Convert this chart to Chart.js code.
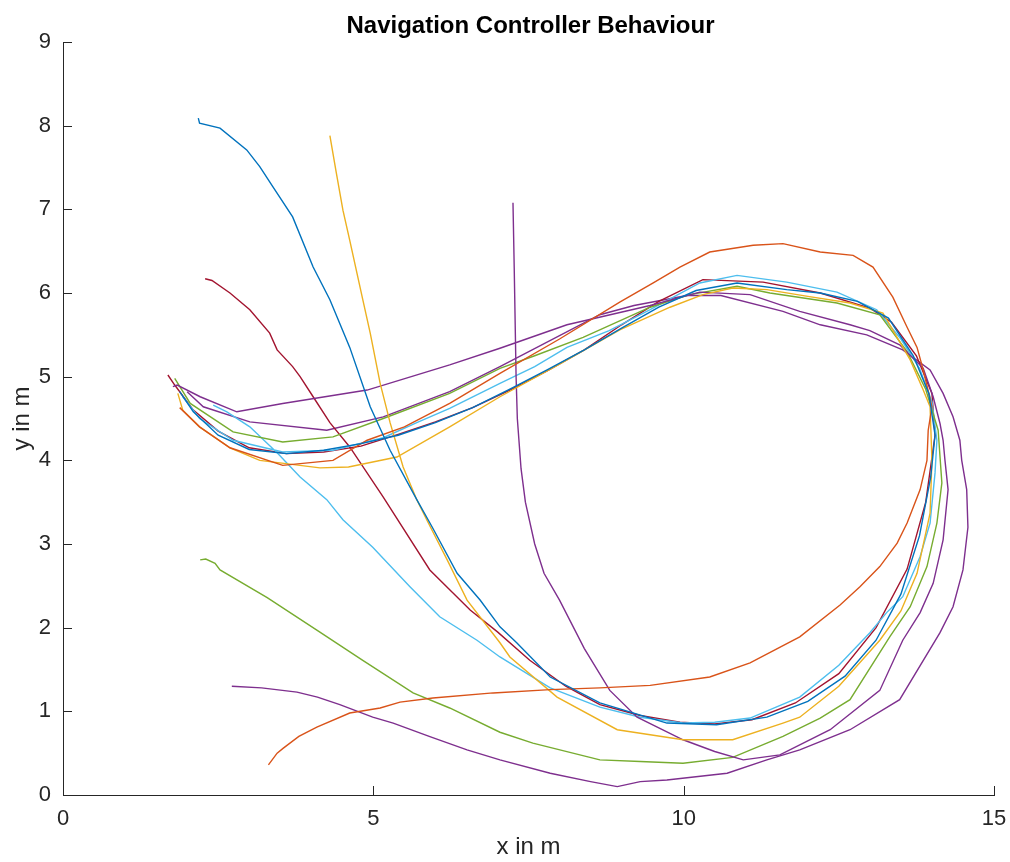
<!DOCTYPE html>
<html>
<head>
<meta charset="utf-8">
<title>Navigation Controller Behaviour</title>
<script src="https://cdn.jsdelivr.net/npm/chart.js@4.4.1/dist/chart.umd.min.js"></script>
<style>
    html, body { margin: 0; padding: 0; background: #ffffff; }
    canvas { display: block; }
</style>
</head>
<body>
<canvas id="navChart" width="1010" height="862"></canvas>
<script>
// Axis ticks
const xTicks = [0, 5, 10, 15];
const yTicks = [0, 1, 2, 3, 4, 5, 6, 7, 8, 9];
const chartTitle = 'Navigation Controller Behaviour';

// Trajectories (x, y in m)
const blueX = [2.18, 2.20, 2.53, 2.96, 3.17, 3.38, 3.70, 4.03, 4.30, 4.62, 4.95, 5.27, 5.70, 5.95, 6.35, 6.72, 7.04, 7.31, 7.85, 8.65, 9.73, 10.53, 11.34, 12.0, 12.6, 13.1, 13.5, 13.8, 13.98, 14.05, 13.95, 13.7, 13.3, 12.8, 12.2, 11.66, 10.86, 10.2, 9.6, 9.0, 8.4, 7.8, 7.2, 6.6, 6.0, 5.4, 4.8, 4.2, 3.6, 3.0, 2.5, 2.1, 1.88];
const blueY = [8.09, 8.03, 7.97, 7.71, 7.51, 7.27, 6.91, 6.31, 5.92, 5.35, 4.64, 4.12, 3.53, 3.20, 2.65, 2.33, 2.01, 1.82, 1.41, 1.10, 0.86, 0.84, 0.93, 1.12, 1.42, 1.85, 2.4, 3.1, 3.8, 4.3, 4.8, 5.25, 5.7, 5.9, 6.0, 6.04, 6.12, 6.03, 5.83, 5.58, 5.32, 5.08, 4.85, 4.63, 4.45, 4.3, 4.2, 4.12, 4.08, 4.13, 4.3, 4.58, 4.82];

const orangeX = [3.31, 3.45, 3.55, 3.8, 4.09, 4.62, 5.11, 5.43, 5.96, 6.93, 7.85, 8.65, 9.46, 10.42, 11.07, 11.87, 12.52, 12.84, 13.16, 13.44, 13.6, 13.81, 13.92, 13.94, 14.0, 13.86, 13.76, 13.6, 13.37, 13.05, 12.73, 12.2, 11.6, 11.12, 10.42, 9.94, 9.51, 8.97, 8.0, 7.04, 6.23, 5.5, 4.9, 4.35, 3.54, 2.69, 2.2, 1.88];
const orangeY = [0.36, 0.5, 0.56, 0.7, 0.81, 0.98, 1.04, 1.11, 1.16, 1.22, 1.26, 1.28, 1.31, 1.41, 1.58, 1.89, 2.27, 2.49, 2.73, 3.01, 3.25, 3.65, 4.0, 4.36, 4.64, 5.08, 5.35, 5.59, 5.95, 6.31, 6.45, 6.49, 6.59, 6.57, 6.49, 6.31, 6.12, 5.89, 5.45, 5.04, 4.68, 4.4, 4.24, 4.0, 3.94, 4.15, 4.4, 4.63];

const yellowX = [4.30, 4.40, 4.51, 4.62, 4.83, 4.95, 5.11, 5.27, 5.48, 5.70, 5.86, 6.19, 6.51, 7.04, 7.2, 7.96, 8.93, 9.99, 10.79, 11.6, 11.87, 12.5, 13.16, 13.5, 13.76, 13.97, 14.0, 13.97, 13.86, 13.65, 13.21, 12.68, 12.0, 11.34, 10.79, 10.31, 9.78, 8.97, 8.0, 7.04, 6.23, 5.38, 4.6, 4.14, 3.17, 2.69, 2.2, 1.93, 1.85];
const yellowY = [7.88, 7.45, 6.99, 6.63, 5.92, 5.52, 4.92, 4.45, 3.92, 3.53, 3.29, 2.81, 2.33, 1.82, 1.65, 1.17, 0.78, 0.66, 0.66, 0.86, 0.93, 1.3, 1.85, 2.2, 2.65, 3.37, 4.0, 4.64, 4.84, 5.2, 5.76, 5.88, 5.96, 6.04, 6.06, 5.98, 5.83, 5.56, 5.15, 4.76, 4.40, 4.04, 3.92, 3.91, 4.0, 4.15, 4.4, 4.6, 4.8];

const purpleAX = [7.25, 7.27, 7.30, 7.32, 7.38, 7.45, 7.6, 7.75, 8.0, 8.4, 8.81, 9.25, 9.99, 10.5, 10.96, 11.55, 12.36, 13.16, 13.53, 13.81, 14.02, 14.18, 14.26, 14.21, 14.18, 14.13, 14.02, 13.86, 13.48, 13.0, 12.68, 11.87, 11.07, 10.26, 9.46, 8.12, 7.04, 6.23, 4.9, 3.54, 2.8, 2.21, 1.84, 1.77];
const purpleAY = [7.08, 6.3, 5.0, 4.5, 3.9, 3.5, 3.0, 2.65, 2.33, 1.75, 1.25, 0.93, 0.66, 0.52, 0.42, 0.48, 0.78, 1.25, 1.85, 2.18, 2.53, 3.05, 3.65, 4.0, 4.24, 4.44, 4.76, 5.1, 5.38, 5.55, 5.62, 5.78, 5.98, 6.01, 5.85, 5.62, 5.34, 5.14, 4.84, 4.68, 4.58, 4.76, 4.9, 4.88];

const greenX = [2.21, 2.3, 2.45, 2.53, 3.29, 4.09, 4.83, 5.64, 6.23, 7.04, 7.57, 8.65, 9.3, 9.99, 10.79, 11.6, 12.2, 12.68, 13.32, 13.65, 13.92, 14.08, 14.16, 14.1, 13.9, 13.6, 13.16, 12.47, 11.39, 10.86, 10.1, 9.46, 8.38, 7.6, 7.04, 6.23, 5.16, 4.35, 3.54, 2.74, 2.05, 1.8];
const greenY = [2.81, 2.82, 2.77, 2.69, 2.36, 1.97, 1.61, 1.22, 1.04, 0.75, 0.62, 0.42, 0.4, 0.38, 0.45, 0.7, 0.92, 1.14, 1.89, 2.25, 2.73, 3.25, 3.73, 4.36, 4.85, 5.3, 5.74, 5.88, 6.0, 6.08, 5.98, 5.83, 5.47, 5.25, 5.1, 4.8, 4.5, 4.28, 4.22, 4.34, 4.68, 4.98];

const lightBlueX = [2.42, 2.64, 3.01, 3.45, 3.82, 4.25, 4.51, 4.99, 5.59, 6.07, 6.67, 7.04, 7.85, 8.65, 9.3, 9.99, 10.5, 11.07, 11.87, 12.5, 13.0, 13.27, 13.53, 13.81, 13.97, 14.05, 14.08, 14.0, 13.8, 13.5, 13.11, 12.47, 11.66, 10.86, 10.26, 9.46, 8.8, 8.12, 7.6, 7.04, 6.23, 5.7, 5.16, 4.35, 3.54, 2.74, 2.2, 1.93];
const lightBlueY = [4.66, 4.58, 4.40, 4.09, 3.80, 3.53, 3.29, 2.96, 2.49, 2.13, 1.85, 1.65, 1.28, 1.05, 0.93, 0.86, 0.87, 0.92, 1.17, 1.55, 1.94, 2.18, 2.37, 2.85, 3.25, 3.85, 4.24, 4.7, 5.1, 5.45, 5.8, 6.01, 6.13, 6.21, 6.12, 5.80, 5.55, 5.35, 5.12, 4.92, 4.62, 4.45, 4.27, 4.12, 4.10, 4.24, 4.5, 4.76];

const redX = [2.29, 2.4, 2.69, 3.01, 3.33, 3.45, 3.70, 3.82, 4.03, 4.30, 4.62, 5.16, 5.91, 6.56, 7.0, 7.52, 8.1, 8.65, 9.3, 9.94, 10.5, 11.1, 11.8, 12.5, 13.1, 13.6, 13.9, 14.05, 14.0, 13.75, 13.35, 13.0, 12.2, 11.28, 10.31, 9.6, 9.0, 8.4, 7.8, 7.2, 6.6, 6.0, 5.4, 4.8, 4.2, 3.6, 3.0, 2.5, 2.1, 1.8, 1.69];
const redY = [6.17, 6.15, 6.0, 5.8, 5.52, 5.32, 5.12, 5.0, 4.76, 4.45, 4.16, 3.56, 2.69, 2.21, 1.95, 1.61, 1.3, 1.08, 0.95, 0.87, 0.85, 0.9, 1.1, 1.45, 2.0, 2.7, 3.5, 4.3, 4.8, 5.25, 5.65, 5.82, 6.0, 6.13, 6.16, 5.9, 5.62, 5.32, 5.07, 4.84, 4.63, 4.46, 4.31, 4.17, 4.1, 4.08, 4.15, 4.35, 4.6, 4.9, 5.02];

const purpleBX = [2.72, 3.2, 3.77, 4.1, 4.46, 4.99, 5.32, 5.9, 6.51, 7.04, 7.85, 8.5, 8.93, 9.3, 9.73, 10.7, 11.34, 11.87, 12.68, 13.48, 14.13, 14.34, 14.5, 14.58, 14.56, 14.48, 14.45, 14.34, 14.18, 13.97, 13.53, 12.95, 12.2, 11.6, 10.6, 10.05, 9.2, 8.65, 7.04, 6.23, 5.16, 4.25, 3.01, 2.26, 2.0];
const purpleBY = [1.30, 1.28, 1.23, 1.17, 1.08, 0.93, 0.86, 0.7, 0.54, 0.42, 0.26, 0.16, 0.1, 0.16, 0.18, 0.26, 0.42, 0.54, 0.78, 1.14, 1.94, 2.25, 2.69, 3.2, 3.65, 4.0, 4.24, 4.52, 4.8, 5.08, 5.32, 5.5, 5.62, 5.78, 5.97, 5.97, 5.85, 5.74, 5.12, 4.82, 4.52, 4.36, 4.46, 4.64, 4.82];

// MATLAB default line colours
const colors = {
    blue: '#0072BD',
    orange: '#D95319',
    yellow: '#EDB120',
    purple: '#7E2F8E',
    green: '#77AC30',
    lightBlue: '#4DBEEE',
    red: '#A2142F',
    axis: '#262626'
};
const fontFamily = "'Liberation Sans', Arial, sans-serif";

function toPoints(xs, ys) {
    return xs.map(function(x, i) { return { x: x, y: ys[i] }; });
}

function track(xs, ys, color) {
    return {
        data: toPoints(xs, ys),
        showLine: true,
        borderColor: color,
        borderWidth: 1.4,
        pointRadius: 0,
        fill: false,
        tension: 0
    };
}

// MATLAB style: ticks pointing into the plot, title centred over the axes
const matlabLook = {
    id: 'matlabLook',
    afterDatasetsDraw: function(chart) {
        const ctx = chart.ctx;
        const area = chart.chartArea;
        const xs = chart.scales.x;
        const ys = chart.scales.y;
        ctx.save();
        ctx.strokeStyle = colors.axis;
        ctx.lineWidth = 1;
        ctx.beginPath();
        xTicks.forEach(function(v) {
            const px = Math.round(xs.getPixelForValue(v)) + 0.5;
            ctx.moveTo(px, area.bottom);
            ctx.lineTo(px, area.bottom - 9);
        });
        yTicks.forEach(function(v) {
            const py = Math.round(ys.getPixelForValue(v)) + 0.5;
            ctx.moveTo(area.left, py);
            ctx.lineTo(area.left + 9, py);
        });
        ctx.stroke();

        ctx.fillStyle = '#000000';
        ctx.font = 'bold 24px ' + fontFamily;
        ctx.textAlign = 'center';
        ctx.textBaseline = 'alphabetic';
        ctx.fillText(chartTitle, (area.left + area.right) / 2 + 2, 33);
        ctx.restore();
    }
};

const ctx = document.getElementById('navChart').getContext('2d');
const navChart = new Chart(ctx, {
    type: 'scatter',
    data: {
        datasets: [
            track(blueX, blueY, colors.blue),
            track(orangeX, orangeY, colors.orange),
            track(yellowX, yellowY, colors.yellow),
            track(purpleAX, purpleAY, colors.purple),
            track(greenX, greenY, colors.green),
            track(lightBlueX, lightBlueY, colors.lightBlue),
            track(redX, redY, colors.red),
            track(purpleBX, purpleBY, colors.purple)
        ]
    },
    options: {
        responsive: false,
        animation: false,
        layout: {
            padding: { left: 0, right: 16, top: 42, bottom: 0 }
        },
        plugins: {
            legend: { display: false },
            tooltip: { enabled: false },
            title: { display: false }
        },
        scales: {
            x: {
                type: 'linear',
                min: 0,
                max: 15,
                afterFit: function(scale) {
                    scale.height = 67;
                    scale.paddingLeft = 0;
                    scale.paddingRight = 0;
                },
                afterBuildTicks: function(scale) {
                    scale.ticks = xTicks.map(function(v) { return { value: v }; });
                },
                grid: { drawOnChartArea: false, drawTicks: false },
                border: { display: true, color: colors.axis, width: 1 },
                ticks: {
                    color: colors.axis,
                    padding: 11,
                    maxRotation: 0,
                    font: { family: fontFamily, size: 22 }
                },
                title: {
                    display: true,
                    text: 'x in m',
                    color: colors.axis,
                    font: { family: fontFamily, size: 24 },
                    padding: { top: 0, bottom: 0 }
                }
            },
            y: {
                type: 'linear',
                min: 0,
                max: 9,
                afterFit: function(scale) {
                    scale.width = 63;
                    scale.paddingTop = 0;
                    scale.paddingBottom = 0;
                },
                afterBuildTicks: function(scale) {
                    scale.ticks = yTicks.map(function(v) { return { value: v }; });
                },
                grid: { drawOnChartArea: false, drawTicks: false },
                border: { display: true, color: colors.axis, width: 1 },
                ticks: {
                    color: colors.axis,
                    padding: 12,
                    font: { family: fontFamily, size: 22 }
                },
                title: {
                    display: true,
                    text: 'y in m',
                    color: colors.axis,
                    font: { family: fontFamily, size: 24 },
                    padding: { top: 8, bottom: 0 }
                }
            }
        }
    },
    plugins: [matlabLook]
});
</script>
</body>
</html>
